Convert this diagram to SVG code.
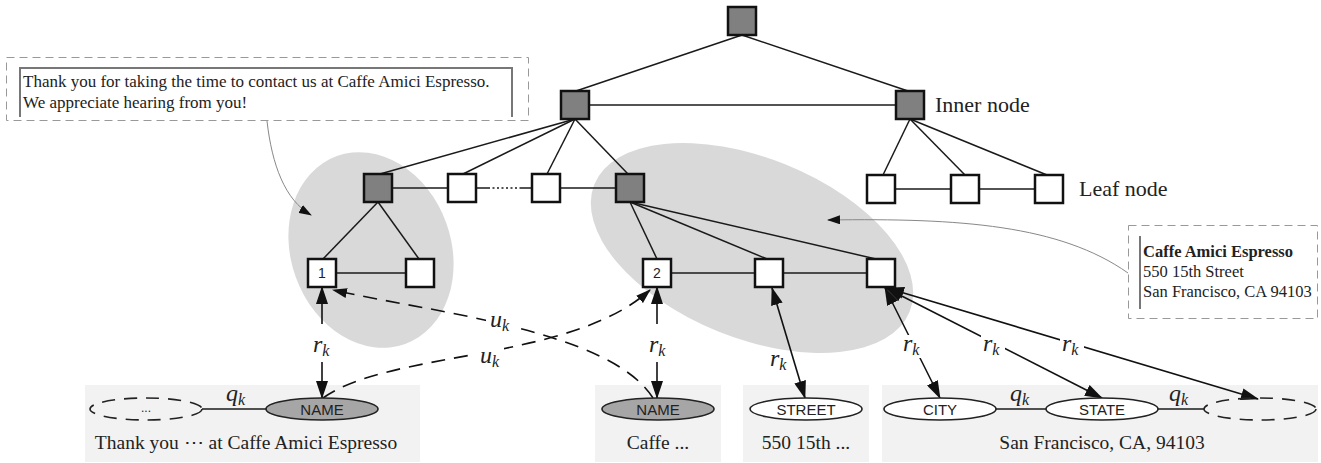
<svg xmlns="http://www.w3.org/2000/svg" width="1321" height="463" viewBox="0 0 1321 463">
<style>
.inner{fill:#808080;stroke:#111;stroke-width:2.5}
.leaf{fill:#fff;stroke:#111;stroke-width:2.5}
.edge{stroke:#1a1a1a;stroke-width:1.5;fill:none}
.arr{stroke:#111;stroke-width:1.6;fill:none}
.dash{stroke:#111;stroke-width:1.6;fill:none;stroke-dasharray:14 9}
.call{stroke:#888;stroke-width:1;fill:none}
.cbox{fill:none;stroke:#999;stroke-width:1;stroke-dasharray:8 5}
.frame{fill:none;stroke:#777;stroke-width:2}
.panel{fill:#f2f2f2}
.ell{stroke:#222;stroke-width:1.6;fill:#fff}
.ellg{stroke:#222;stroke-width:1.6;fill:#a6a6a6}
.elld{stroke:#222;stroke-width:1.6;fill:none;stroke-dasharray:13 9}
.serif{font-family:"Liberation Serif","Times New Roman",serif;fill:#222}
.sans{font-family:"Liberation Sans",Arial,sans-serif;fill:#222}
.math{font-family:"Liberation Serif","Times New Roman",serif;font-style:italic;font-size:24px;fill:#222}
.sub{font-size:16px}
.bg{fill:#fff}
</style>
<defs>
<marker id="ah" viewBox="0 0 18 12" refX="17" refY="6" markerWidth="18" markerHeight="12" markerUnits="userSpaceOnUse" orient="auto-start-reverse"><path d="M0,0 L18,6 L0,12 z" fill="#111"/></marker>
<marker id="ahs" viewBox="0 0 15 10" refX="14" refY="5" markerWidth="15" markerHeight="10" markerUnits="userSpaceOnUse" orient="auto-start-reverse"><path d="M0,0 L15,5 L0,10 z" fill="#111"/></marker>
<marker id="ahc" viewBox="0 0 13 9" refX="12" refY="4.5" markerWidth="13" markerHeight="9" markerUnits="userSpaceOnUse" orient="auto"><path d="M0,0 L13,4.5 L0,9 z" fill="#111"/></marker>
</defs>
<rect width="1321" height="463" fill="#fff"/>

<!-- grey group ellipses -->
<g id="groups">
<ellipse cx="371" cy="250" rx="80" ry="100" transform="rotate(-20 371 250)" fill="#d9d9d9"/>
<ellipse cx="752" cy="248" rx="170" ry="90" transform="rotate(22 752 248)" fill="#d9d9d9"/>
</g>

<!-- bottom panels -->
<g id="panels">
<rect class="panel" x="85" y="385" width="335" height="77"/>
<rect class="panel" x="595" y="385" width="126" height="77"/>
<rect class="panel" x="743" y="385" width="126" height="77"/>
<rect class="panel" x="882" y="385" width="436" height="77"/>
</g>

<!-- callouts -->
<g id="callout-left">
<rect class="cbox" x="6.5" y="57.5" width="522" height="63"/>
<path class="frame" d="M20,117 V68 H512 V117"/>
<text class="serif" x="23" y="87" font-size="17">Thank you for taking the time to contact us at Caffe Amici Espresso.</text>
<text class="serif" x="23" y="108" font-size="17">We appreciate hearing from you!</text>
</g>
<g id="callout-right">
<rect class="cbox" x="1128.5" y="225.5" width="189" height="93"/>
<line class="frame" x1="1140" y1="236" x2="1140" y2="309"/>
<text class="serif" x="1143" y="257" font-size="16.5" font-weight="bold">Caffe Amici Espresso</text>
<text class="serif" x="1143" y="277" font-size="16.5">550 15th Street</text>
<text class="serif" x="1143" y="297" font-size="16.5">San Francisco, CA 94103</text>
</g>

<!-- connectors -->
<g id="connectors">
<path class="call" d="M267,121 C272,165 285,200 311,215" marker-end="url(#ahc)"/>
<path class="call" d="M1128,273 C1060,225 960,218 828,220" marker-end="url(#ahc)"/>

<line class="edge" x1="742" y1="35" x2="576" y2="91"/>
<line class="edge" x1="742" y1="35" x2="908" y2="91"/>
<line class="edge" x1="589" y1="105" x2="896" y2="105"/>
<line class="edge" x1="575" y1="119" x2="380" y2="174"/>
<line class="edge" x1="575" y1="119" x2="463" y2="174"/>
<line class="edge" x1="575" y1="119" x2="547" y2="174"/>
<line class="edge" x1="575" y1="119" x2="628" y2="174"/>
<line class="edge" x1="910" y1="119" x2="883" y2="175"/>
<line class="edge" x1="910" y1="119" x2="965" y2="175"/>
<line class="edge" x1="910" y1="119" x2="1047" y2="175"/>
<line class="edge" x1="392" y1="188" x2="448" y2="188"/>
<line class="edge" x1="476" y1="188" x2="488" y2="188"/>
<line class="edge" x1="488" y1="188" x2="520" y2="188" stroke-dasharray="2 2.5" stroke-width="2"/>
<line class="edge" x1="520" y1="188" x2="532" y2="188"/>
<line class="edge" x1="560" y1="188" x2="616" y2="188"/>
<line class="edge" x1="895" y1="189" x2="951" y2="189"/>
<line class="edge" x1="979" y1="189" x2="1035" y2="189"/>
<line class="edge" x1="378" y1="202" x2="323" y2="259"/>
<line class="edge" x1="378" y1="202" x2="419" y2="259"/>
<line class="edge" x1="630" y1="202" x2="657" y2="259"/>
<line class="edge" x1="630" y1="202" x2="767" y2="259"/>
<line class="edge" x1="630" y1="202" x2="876" y2="259"/>
<line class="edge" x1="336" y1="273" x2="406" y2="273"/>
<line class="edge" x1="671" y1="273" x2="755" y2="273"/>
<line class="edge" x1="783" y1="273" x2="867" y2="273"/>

<line class="edge" x1="202" y1="409" x2="266" y2="409"/>
<line class="edge" x1="996" y1="409" x2="1046" y2="409"/>
<line class="edge" x1="1158" y1="409" x2="1204" y2="409"/>

<!-- u_k dashed -->
<path class="dash" d="M653,398 C610,330 430,312 333,290" marker-end="url(#ahs)"/>
<path class="dash" d="M323,398 C390,350 570,362 650,290" marker-end="url(#ahs)"/>

<!-- r_k arrows -->
<line class="arr" x1="322" y1="324" x2="322" y2="287" marker-end="url(#ah)"/>
<line class="arr" x1="322" y1="362" x2="322" y2="398" marker-end="url(#ah)"/>
<line class="arr" x1="657" y1="324" x2="657" y2="287" marker-end="url(#ah)"/>
<line class="arr" x1="657" y1="362" x2="657" y2="398" marker-end="url(#ah)"/>
<line class="arr" x1="772" y1="288" x2="805" y2="398" marker-start="url(#ah)" marker-end="url(#ah)"/>
<line class="arr" x1="885" y1="288" x2="940" y2="398" marker-start="url(#ah)" marker-end="url(#ah)"/>
<line class="arr" x1="886" y1="288" x2="1102" y2="398" marker-start="url(#ah)" marker-end="url(#ah)"/>
<line class="arr" x1="887" y1="288" x2="1258" y2="399" marker-start="url(#ah)" marker-end="url(#ah)"/>

<!-- labels -->
<rect class="bg" x="486" y="311" width="28" height="22"/>
<text class="math" x="490" y="327">u<tspan class="sub" dy="4">k</tspan></text>
<rect class="bg" x="476" y="347" width="28" height="22"/>
<text class="math" x="480" y="363">u<tspan class="sub" dy="4">k</tspan></text>
<text class="math" x="313" y="352">r<tspan class="sub" dy="4">k</tspan></text>
<text class="math" x="649" y="352">r<tspan class="sub" dy="4">k</tspan></text>
<text class="math" x="770" y="366">r<tspan class="sub" dy="4">k</tspan></text>
<rect class="bg" x="901" y="335" width="24" height="23"/>
<text class="math" x="903" y="351">r<tspan class="sub" dy="4">k</tspan></text>
<rect class="bg" x="981" y="335" width="24" height="23"/>
<text class="math" x="983" y="351">r<tspan class="sub" dy="4">k</tspan></text>
<rect class="bg" x="1060" y="335" width="24" height="23"/>
<text class="math" x="1062" y="351">r<tspan class="sub" dy="4">k</tspan></text>
<text class="math" x="226" y="401">q<tspan class="sub" dy="4">k</tspan></text>
<text class="math" x="1010" y="401">q<tspan class="sub" dy="4">k</tspan></text>
<text class="math" x="1169" y="401">q<tspan class="sub" dy="4">k</tspan></text>
</g>

<!-- tree nodes -->
<g id="root"><rect class="inner" x="728" y="7" width="28" height="28"/></g>
<g id="inner-left"><rect class="inner" x="561" y="91" width="28" height="28"/></g>
<g id="inner-right"><rect class="inner" x="896" y="91" width="28" height="28"/>
<text class="serif" x="935" y="112" font-size="22">Inner node</text></g>
<g id="l2-a"><rect class="inner" x="364" y="174" width="28" height="28"/></g>
<g id="l2-b"><rect class="leaf" x="448" y="174" width="28" height="28"/></g>
<g id="l2-c"><rect class="leaf" x="532" y="174" width="28" height="28"/></g>
<g id="l2-d"><rect class="inner" x="616" y="174" width="28" height="28"/></g>
<g id="r-leaf-1"><rect class="leaf" x="867" y="175" width="28" height="28"/></g>
<g id="r-leaf-2"><rect class="leaf" x="951" y="175" width="28" height="28"/></g>
<g id="r-leaf-3"><rect class="leaf" x="1035" y="175" width="28" height="28"/>
<text class="serif" x="1079" y="196" font-size="22">Leaf node</text></g>
<g id="leaf-1"><rect class="leaf" x="308" y="259" width="28" height="28"/>
<text class="sans" x="322" y="278" font-size="14" text-anchor="middle">1</text></g>
<g id="leaf-1b"><rect class="leaf" x="406" y="259" width="28" height="28"/></g>
<g id="leaf-2"><rect class="leaf" x="643" y="259" width="28" height="28"/>
<text class="sans" x="657" y="278" font-size="14" text-anchor="middle">2</text></g>
<g id="leaf-3"><rect class="leaf" x="755" y="259" width="28" height="28"/></g>
<g id="leaf-4"><rect class="leaf" x="867" y="259" width="28" height="28"/></g>

<!-- bottom entity nodes -->
<g id="e-dots"><ellipse class="elld" cx="146" cy="409" rx="56" ry="11"/>
<text class="sans" x="146" y="412" font-size="12" text-anchor="middle">...</text></g>
<g id="e-name1"><ellipse class="ellg" cx="322" cy="409" rx="56" ry="11"/>
<text class="sans" x="322" y="414.5" font-size="15" text-anchor="middle">NAME</text></g>
<g id="cap1"><text class="serif" x="246" y="449" font-size="19.5" text-anchor="middle">Thank you ⋯ at Caffe Amici Espresso</text></g>
<g id="e-name2"><ellipse class="ellg" cx="658" cy="409" rx="56" ry="11"/>
<text class="sans" x="658" y="414.5" font-size="15" text-anchor="middle">NAME</text></g>
<g id="cap2"><text class="serif" x="658" y="449" font-size="19.5" text-anchor="middle">Caffe ...</text></g>
<g id="e-street"><ellipse class="ell" cx="806" cy="409" rx="56" ry="11"/>
<text class="sans" x="806" y="414.5" font-size="15" text-anchor="middle">STREET</text></g>
<g id="cap3"><text class="serif" x="806" y="449" font-size="19.5" text-anchor="middle">550 15th ...</text></g>
<g id="e-city"><ellipse class="ell" cx="940" cy="409" rx="56" ry="11"/>
<text class="sans" x="940" y="414.5" font-size="15" text-anchor="middle">CITY</text></g>
<g id="e-state"><ellipse class="ell" cx="1102" cy="409" rx="56" ry="11"/>
<text class="sans" x="1102" y="414.5" font-size="15" text-anchor="middle">STATE</text></g>
<g id="e-dashed"><ellipse class="elld" cx="1260" cy="409" rx="56" ry="11"/></g>
<g id="cap4"><text class="serif" x="1102" y="449" font-size="19.5" text-anchor="middle">San Francisco, CA, 94103</text></g>
</svg>
